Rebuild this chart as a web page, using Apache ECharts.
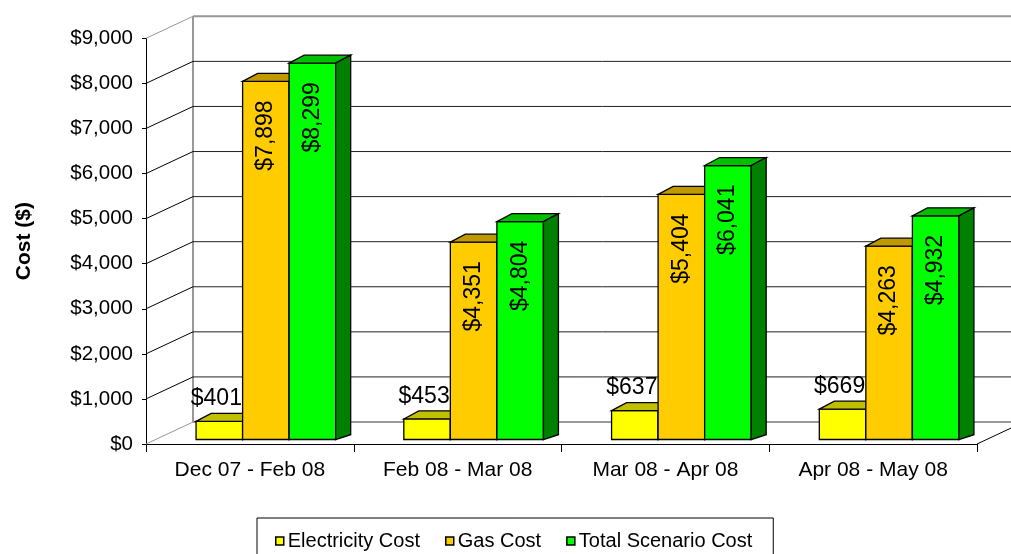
<!DOCTYPE html>
<html>
<head>
<meta charset="utf-8">
<script src="https://cdn.jsdelivr.net/npm/echarts@6/dist/echarts.min.js"></script>
<style>
html,body{margin:0;padding:0;background:#fff;}
#chart{width:1011px;height:554px;}
</style>
</head>
<body>
<div id="chart"></div>
<script>
// ---- data ----
var categories = ['Dec 07 - Feb 08', 'Feb 08 - Mar 08', 'Mar 08 - Apr 08', 'Apr 08 - May 08'];
var electricityCost = [401, 453, 637, 669];
var gasCost = [7898, 4351, 5404, 4263];
var totalScenarioCost = [8299, 4804, 6041, 4932];
var yTicks = [0, 1000, 2000, 3000, 4000, 5000, 6000, 7000, 8000, 9000];
var seriesNames = ['Electricity Cost', 'Gas Cost', 'Total Scenario Cost'];

// ---- styling / geometry constants ----
var FONT = "'Liberation Sans', Arial, sans-serif";
var WALL_DX = 47, WALL_DY = -22;   // depth of the chart box
var BAR_PX = 16, BAR_PY = -4.5;    // bar front plane offset from front plane
var BAR_DX = 15, BAR_DY = -8;      // bar depth
var K = 1.006;                     // slight perspective of bar plane
var palette = [
  {front: '#FFFF00', top: '#C0C000', side: '#999900'},
  {front: '#FFCC00', top: '#C09900', side: '#997A00'},
  {front: '#00FF00', top: '#00C000', side: '#008000'}
];

function money(v) { return '$' + v.toLocaleString('en-US'); }
function pairs(arr) { return arr.map(function (v, i) { return [i, v]; }); }

function wallRender(params, api) {
  var cs = params.coordSys;
  var v = api.value(0);
  var y = api.coord([0, v])[1];
  var x0 = cs.x;
  var isEdge = (v === yTicks[0] || v === yTicks[yTicks.length - 1]);
  var col = isEdge ? '#999999' : '#222222';
  var children = [
    {type: 'line', shape: {x1: x0, y1: y, x2: x0 + WALL_DX, y2: y + WALL_DY},
     style: {stroke: isEdge ? '#999999' : '#000000', lineWidth: 1}},
    {type: 'line', shape: {x1: x0 + WALL_DX, y1: y + WALL_DY, x2: cs.x + cs.width + WALL_DX + 20, y2: y + WALL_DY},
     style: {stroke: col, lineWidth: isEdge ? 2 : 1}}
  ];
  if (params.dataIndex === 0) {
    var yTop = api.coord([0, yTicks[yTicks.length - 1]])[1];
    children.push({type: 'line', shape: {x1: x0 + WALL_DX, y1: yTop + WALL_DY, x2: x0 + WALL_DX, y2: y + WALL_DY},
      style: {stroke: '#999999', lineWidth: 2}});
    var xr = cs.x + cs.width;
    children.push({type: 'line', shape: {x1: xr, y1: y, x2: xr + WALL_DX, y2: y + WALL_DY},
      style: {stroke: '#000000', lineWidth: 1}});
  }
  return {type: 'group', children: children};
}

function barRender(sIdx) {
  return function (params, api) {
    var cat = api.value(0), v = api.value(1);
    var c0 = api.coord([cat, 0]);
    var c1 = api.coord([cat, v]);
    var catW = api.size([1, 0])[0];
    var bw = catW * 0.224;
    var l = c0[0] - 1.5 * bw + sIdx * bw + BAR_PX;
    var r = l + bw;
    var yb = c0[1] + BAR_PY;
    var yt = yb - (c0[1] - c1[1]) * K;
    var p = palette[sIdx];
    var st = function (fill) { return {fill: fill, stroke: '#000', lineWidth: 1.3, lineJoin: 'miter'}; };
    var children = [
      {type: 'polygon', shape: {points: [[l, yt], [r, yt], [r, yb], [l, yb]]}, style: st(p.front)},
      {type: 'polygon', shape: {points: [[l, yt], [l + BAR_DX, yt + BAR_DY], [r + BAR_DX, yt + BAR_DY], [r, yt]]}, style: st(p.top)},
      {type: 'polygon', shape: {points: [[r, yt], [r + BAR_DX, yt + BAR_DY], [r + BAR_DX, yb + BAR_DY * 0.6], [r, yb]]}, style: st(p.side)}
    ];
    if (sIdx === 0) {
      children.push({type: 'text', x: (l + r) / 2 - 3, y: yt + BAR_DY - 3,
        style: {text: money(v), fill: '#000', font: '23px ' + FONT, align: 'center', verticalAlign: 'bottom'}});
    } else {
      children.push({type: 'text', x: (l + r) / 2, y: yt + 19, rotation: Math.PI / 2,
        style: {text: money(v), fill: '#000', font: '23px ' + FONT, align: 'right', verticalAlign: 'middle'}});
    }
    return {type: 'group', children: children};
  };
}

var chart = echarts.init(document.getElementById('chart'), null, {renderer: 'canvas'});
var series = [{
  type: 'custom', name: '_walls', z: 1, silent: true,
  data: yTicks.map(function (v) { return [v]; }),
  encode: {y: 0},
  renderItem: wallRender
}];
[electricityCost, gasCost, totalScenarioCost].forEach(function (arr, i) {
  series.push({
    type: 'custom', name: seriesNames[i], z: 3 + i,
    data: pairs(arr), encode: {x: 0, y: 1},
    itemStyle: {color: palette[i].front, borderColor: '#000', borderWidth: 1},
    renderItem: barRender(i)
  });
});

chart.setOption({
  animation: false,
  backgroundColor: '#ffffff',
  grid: {left: 146, right: 34, top: 38.3, bottom: 110, containLabel: false},
  xAxis: {
    type: 'category', data: categories, boundaryGap: true,
    axisLine: {show: true, lineStyle: {color: '#000', width: 1}},
    axisTick: {show: true, length: 8, alignWithLabel: false, lineStyle: {color: '#000'}},
    axisLabel: {margin: 16, color: '#000', fontSize: 21, fontFamily: FONT},
    splitLine: {show: false}
  },
  yAxis: {
    type: 'value', min: 0, max: 9000, interval: 1000,
    name: 'Cost ($)', nameLocation: 'middle', nameRotate: 90, nameGap: 111,
    nameTextStyle: {color: '#000', fontSize: 21, fontWeight: 'bold', fontFamily: FONT},
    axisLine: {show: true, lineStyle: {color: '#000', width: 1}},
    axisTick: {show: true, length: 4, lineStyle: {color: '#000'}},
    axisLabel: {margin: 13, color: '#000', fontSize: 20.5, fontFamily: FONT, formatter: function (v) { return money(v); }},
    splitLine: {show: false}
  },
  legend: {
    data: seriesNames.map(function (n, i) {
      return {name: n, icon: 'rect', itemStyle: {color: palette[i].front, borderColor: '#000', borderWidth: 1.5}};
    }),
    left: 257, top: 518,
    orient: 'horizontal',
    itemWidth: 8, itemHeight: 8, itemGap: 25,
    padding: [13, 21, 40, 18],
    borderColor: '#000', borderWidth: 1,
    selectedMode: false,
    textStyle: {color: '#000', fontSize: 20, fontFamily: FONT, padding: [0, 0, 0, -1]}
  },
  series: series
});
</script>
</body>
</html>
